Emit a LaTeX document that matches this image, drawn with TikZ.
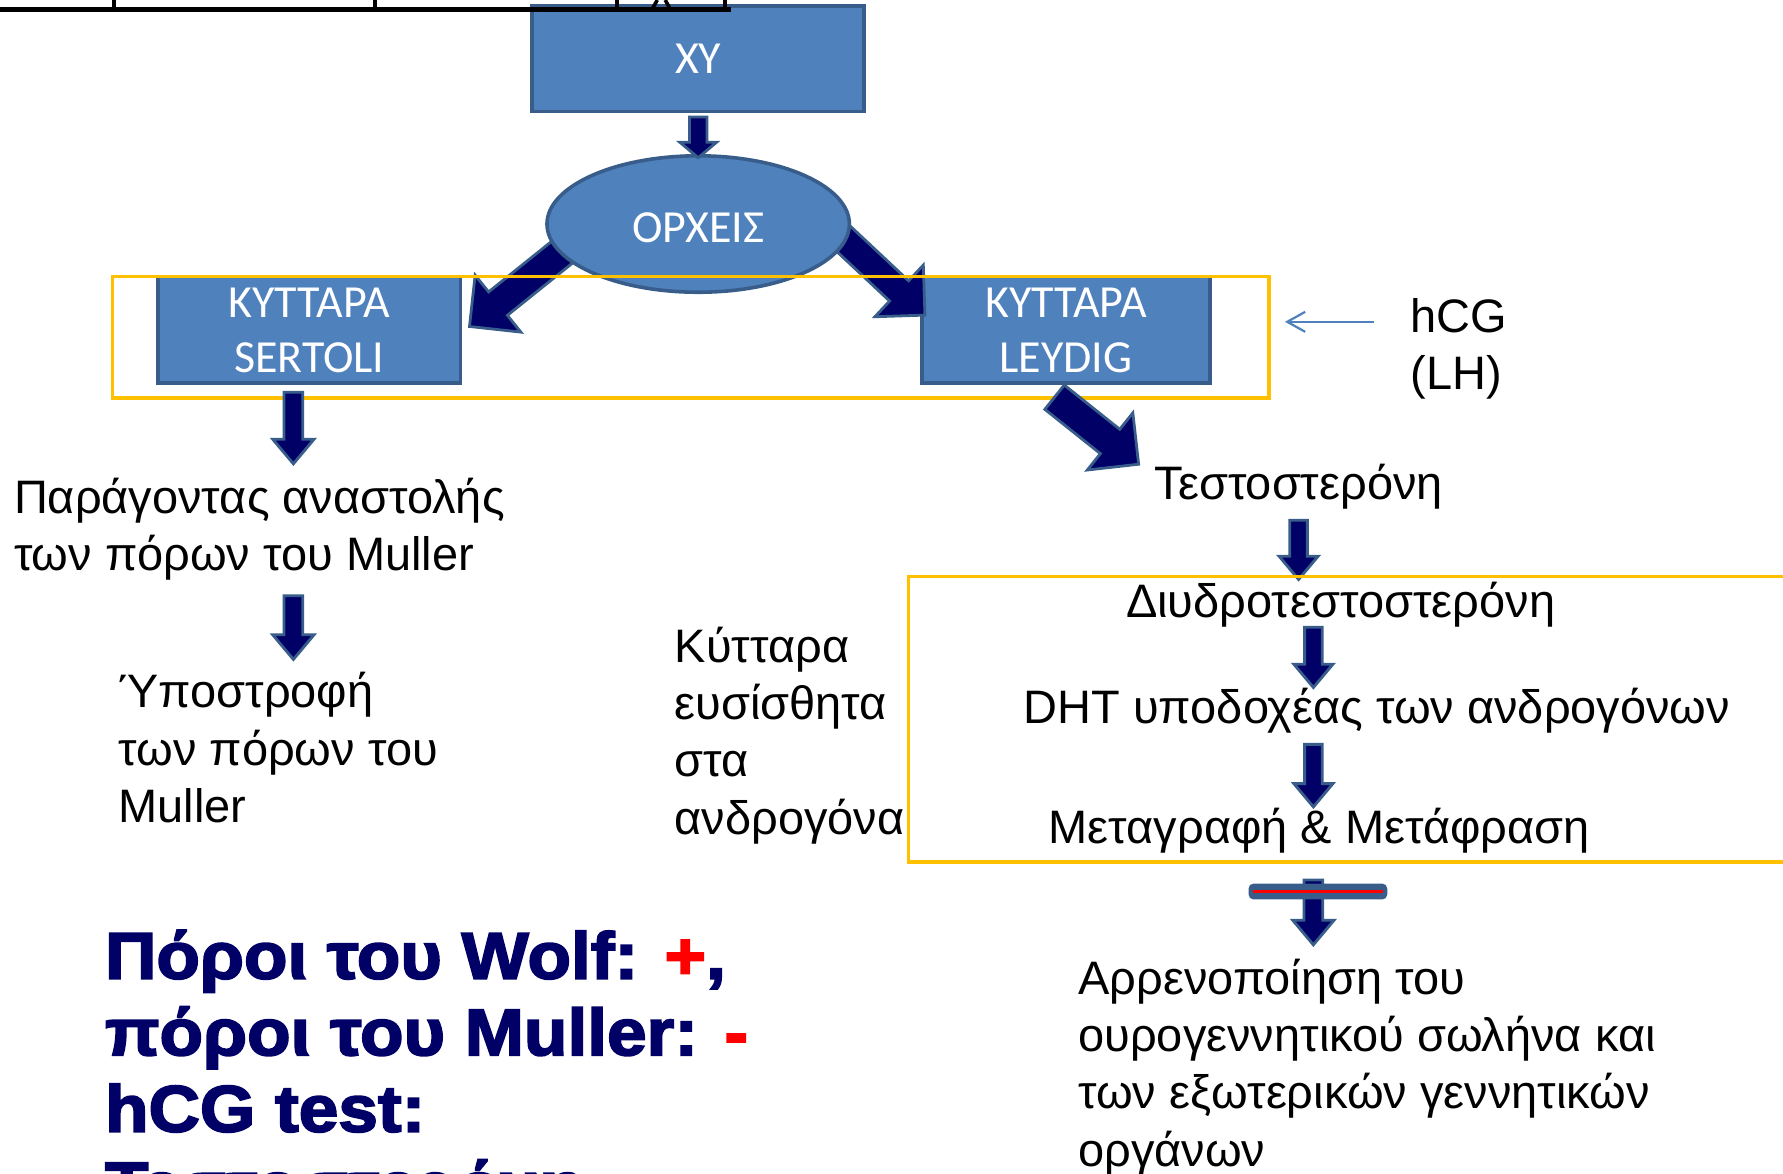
\documentclass[tikz,border=0pt]{standalone}
\usepackage{fontspec}
\setmainfont{Liberation Sans}
\newfontfamily\calib{Carlito}
\newfontfamily\blackf[FakeBold=2.8,FakeStretch=1.08]{Liberation Sans}
\usetikzlibrary{shapes.geometric,shapes.arrows,calc,arrows.meta}
\definecolor{boxfill}{RGB}{79,129,189}
\definecolor{boxline}{RGB}{56,93,138}
\definecolor{navyarr}{RGB}{0,0,102}
\definecolor{ygold}{RGB}{255,192,0}
\tikzset{
  bx/.style={draw=boxline, fill=boxfill, line width=1.8pt, inner sep=0pt},
  blk/.style={single arrow, draw=boxline, fill=navyarr, line width=1.4pt,
    inner xsep=0pt, outer sep=0pt, single arrow tip angle=90, shape border rotate=0},
  body/.style={font=\fontsize{23.5}{28.6}\selectfont, inner sep=0pt, anchor=base west, align=left},
  boxtxt/.style={font=\calib\fontsize{23}{27.8}\selectfont, text=white, inner sep=0pt, anchor=base, align=center},
  bigtxt/.style={font=\blackf\bfseries\fontsize{33}{38.3}\selectfont, text=navyarr, inner sep=0pt, anchor=base west, align=left},
  ybox/.style={draw=ygold, line width=1.8pt},
  hcgarr/.style={draw=boxfill, line width=1.1pt, -{Straight Barb[length=9pt,width=10pt]}},
}
% #1 extra options, #2 tail, #3 tip, #4 head width (px), #5 shaft width (px), #6 name
\newcommand\blockarrow[6][]{%
  \path let \p1=(#2), \p2=(#3), \n1={atan2(\y2-\y1,\x2-\x1)}, \n2={veclen(\x2-\x1,\y2-\y1)} in
    node[blk, minimum height=\n2, inner ysep={#5*0.2835pt}, minimum width={#4*0.567pt},
      single arrow head extend={(#4-#5)*0.2835pt}, rotate=\n1, #1] (#6) at ($(\p1)!0.5!(\p2)$) {};}
\begin{document}
\begin{tikzpicture}[x=0.02cm, y=-0.02cm]
\useasboundingbox (0,0) rectangle (1568,1032);
\clip (0,0) rectangle (1568,1032);

% boxes
\node[bx, minimum width=5.84cm, minimum height=1.86cm] (xy) at (614,51.5) {};
\node[bx, minimum width=5.32cm, minimum height=1.88cm] (sert) at (272,290) {};
\node[bx, minimum width=5.06cm, minimum height=1.88cm] (leyd) at (937.5,290) {};

% top line (clipped title)
\draw[line width=2.4pt] (0,8.5) -- (643,8.5);
\foreach \tx in {100,330,543,638} \draw[line width=2pt] (\tx,0) -- (\tx,9);
\draw[line width=1.8pt] (573,9) -- (578,0) (590,9) -- (585,0);

% diagonal arrows from the testes
\coordinate (lt) at (504,214); \coordinate (lh) at (418,283);
\coordinate (rt) at (729,198); \coordinate (rh) at (809,273);
\blockarrow{lt}{lh}{62}{24}{al}
\blockarrow{rt}{rh}{60}{22}{ar}

% testes
\node[bx, ellipse, minimum width=5.32cm, minimum height=2.4cm] (orx) at (614,197) {};

% XY -> testes
\blockarrow[single arrow tip angle=100]{xy.south}{orx.north}{30}{13}{axy}

% box texts
\node[boxtxt] (txy) at (614,65) {XY};
\node[boxtxt] (torx) at (614,213) {ΟΡΧΕΙΣ};
\node[boxtxt] (tsert) at (272,328) {ΚΥΤΤΑΡΑ\\SERTOLI};
\node[boxtxt] (tleyd) at (937.5,328) {ΚΥΤΤΑΡΑ\\LEYDIG};

% yellow frame 1
\draw[ybox] (99,243) rectangle (1116,350);

% Leydig -> testosterone
\coordinate (ldt) at (922,345); \coordinate (ldh) at (996,404);
\blockarrow{ldt}{ldh}{62}{25}{ald}

% hCG
\coordinate (hs) at (1208,283); \coordinate (he) at (1130,283);
\draw[hcgarr] (hs) -- (he);
\node[body] (thcg) at (1240,342.5) {hCG\\(LH)};

% left column
\coordinate (s1) at (258,340); \coordinate (s2) at (258,403);
\blockarrow[single arrow tip angle=80]{s1}{s2}{34}{14}{as1}
\node[body] (tpar) at (12,501.5) {Παράγοντας αναστολής\\των πόρων του Muller};
\coordinate (s3) at (258,519); \coordinate (s4) at (258,575);
\blockarrow[single arrow tip angle=80]{s3}{s4}{34}{14}{as2}
\node[body] (typo) at (104,723) {Ύποστροφή\\των πόρων του\\Muller};

\node[body] (tkyt) at (593,733.5) {Κύτταρα\\ευσίσθητα\\στα\\ανδρογόνα};

% right column
\node[body] (ttest) at (1015,439) {Τεστοστερόνη};
\coordinate (r1) at (1142,453); \coordinate (r2) at (1142,505);
\blockarrow[single arrow tip angle=80]{r1}{r2}{32}{13}{ar1}
\coordinate (r3) at (1155,547); \coordinate (r4) at (1155,600);
\blockarrow[single arrow tip angle=80]{r3}{r4}{32}{13}{ar2}
\coordinate (r5) at (1155,650); \coordinate (r6) at (1155,705);
\blockarrow[single arrow tip angle=80]{r5}{r6}{32}{13}{ar3}
\draw[ybox] (799,507) rectangle (1600,758);
\node[body] (tdiy) at (990,543) {Διυδροτεστοστερόνη};
\node[body] (tdht) at (900,636) {DHT υποδοχέας των ανδρογόνων};
\node[body] (tmet) at (922,742) {Μεταγραφή \& Μετάφραση};

% blocked arrow
\coordinate (r7) at (1155,769); \coordinate (r8) at (1155,826);
\blockarrow[single arrow tip angle=80]{r7}{r8}{34}{14}{ar4}
\node[fill=boxline, rounded corners=2.5pt, minimum width=2.44cm, minimum height=0.28cm, inner sep=0pt] (bar) at (1159,784) {};
\draw[red, line width=1.8pt] ([xshift=2.3pt]bar.west) -- ([xshift=-2.3pt]bar.east);

\node[body] (tarr) at (948,1025.5) {Αρρενοποίηση του\\ουρογεννητικού σωλήνα και\\των εξωτερικών γεννητικών\\οργάνων};

% bold summary
\node[bigtxt] (tsum) at (92,1062.5) {Πόροι του Wolf: {\color{red}+},\\πόροι του Muller: {\color{red}-}\\hCG test:\\Τεστοστερόνη};
\end{tikzpicture}
\end{document}
